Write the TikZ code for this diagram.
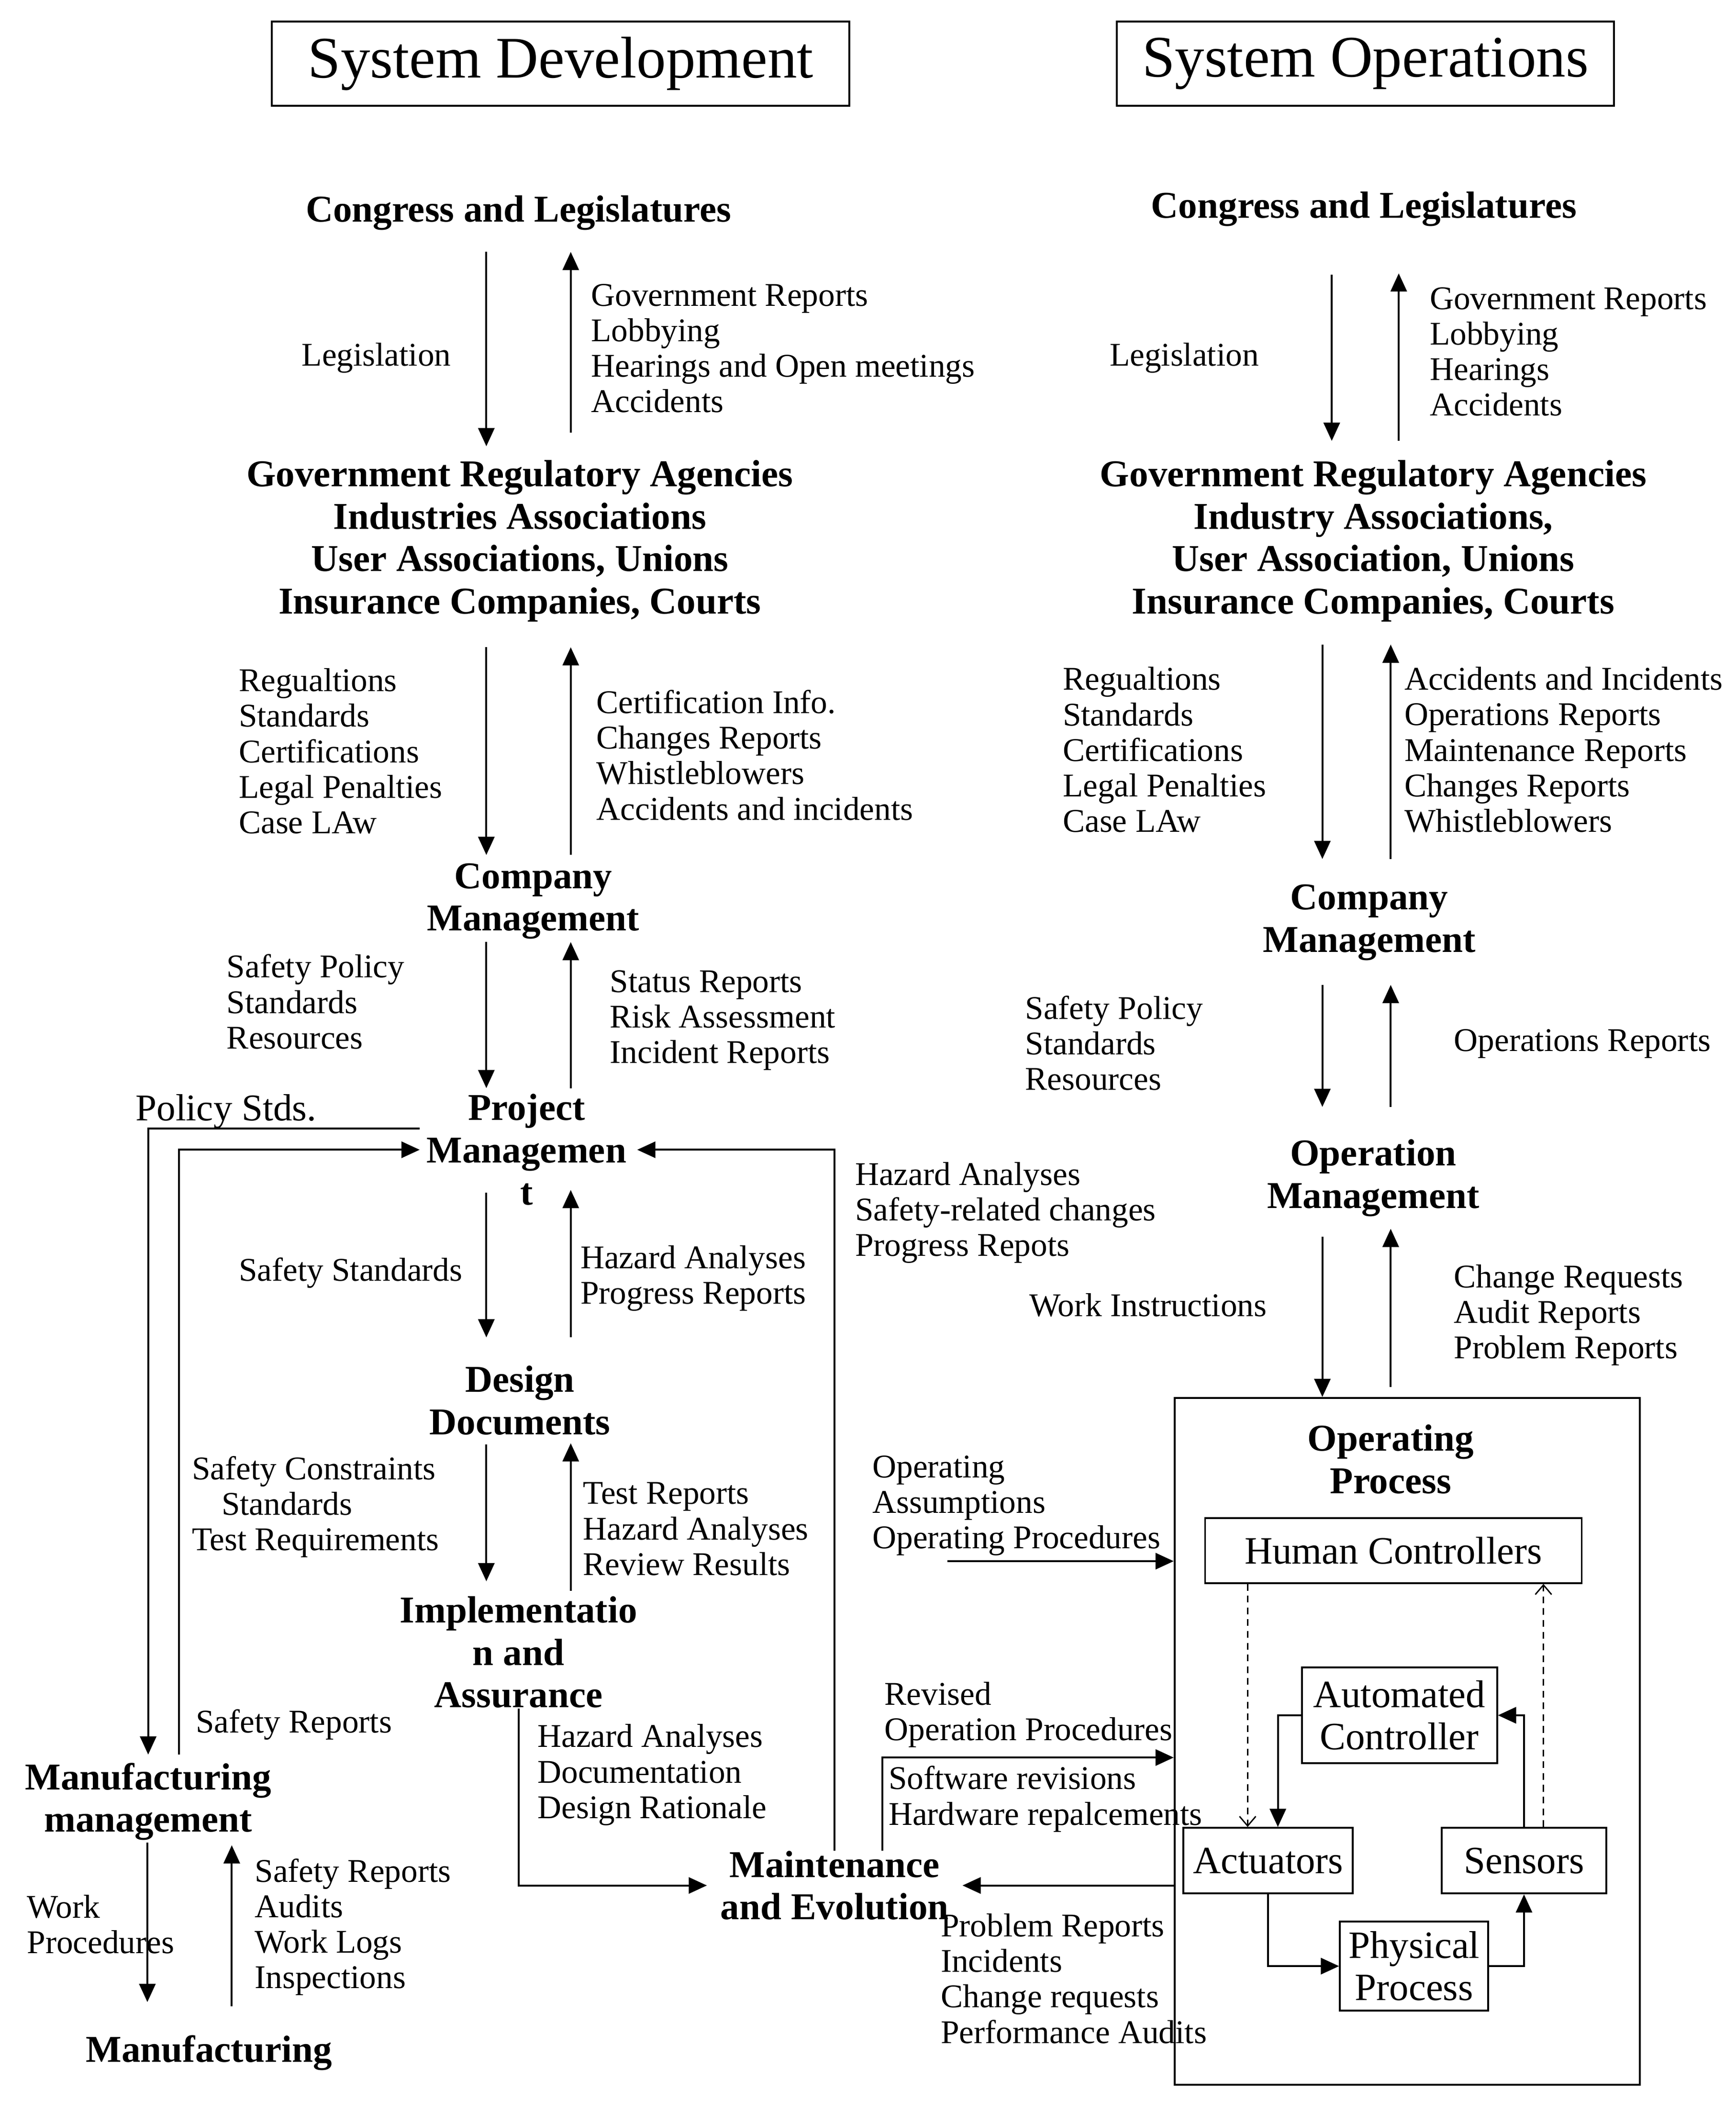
\documentclass[tikz,border=0pt]{standalone}
\usepackage{fontspec}
\setmainfont{Liberation Serif}
\usetikzlibrary{arrows.meta}
\tikzstyle{hdr} = [rectangle, draw=black, line width=1.1pt, minimum height=1.76cm, inner sep=0pt, font=\fontsize{35}{40}\selectfont]
\tikzstyle{ttl} = [align=center, inner sep=0pt, font=\bfseries\fontsize{22.5}{25.2}\selectfont]
\tikzstyle{msg} = [align=left, anchor=west, inner sep=0pt, font=\fontsize{19.7}{21.1}\selectfont]
\tikzstyle{block} = [rectangle, draw=black, line width=1.1pt, inner sep=0pt, align=center, font=\fontsize{23}{25}\selectfont]
\tikzstyle{wire} = [line width=1.1pt]
\tikzstyle{arrow} = [wire, -{Triangle[length=0.38cm, width=0.34cm]}]
\tikzstyle{dasharrow} = [line width=0.8pt, dash pattern=on 4pt off 3pt, -{Straight Barb[length=0.2cm, width=0.34cm]}]
\tikzset{gap/.style 2 args={shorten <=#1*0.028cm, shorten >=#2*0.028cm}}

\begin{document}
\begin{tikzpicture}[x=0.028cm, y=-0.028cm]
    \useasboundingbox (0,0) rectangle (1295.4,1568.6);

    \node (devhead) [hdr, minimum width=12.07cm] at (418.5,47.5) {System Development};
    \node (ophead) [hdr, minimum width=10.39cm] at (1019.1,47.5) {System Operations};

    % system development
    \node (dcong) [ttl] at (387,159) {Congress and Legislatures};
    \node (dgra) [ttl] at (388,403.75) {Government Regulatory Agencies\\Industries Associations\\User Associations, Unions\\Insurance Companies, Courts};
    \node (dcomp) [ttl] at (398,672.5) {Company\\Management};
    \node (dproj) [ttl] at (393,858) {Project\\Managemen\\t};
    \node (ddes) [ttl] at (388,1045) {Design\\Documents};
    \node (dimpl) [ttl] at (387,1233) {Implementatio\\n and\\Assurance};
    \node (dmaint) [ttl] at (623,1407) {Maintenance\\and Evolution};
    \node (dmfgm) [ttl] at (110.6,1344.5) {Manufacturing\\management};
    \node (dmfg) [ttl] at (156,1532) {Manufacturing};

    \node (dlegis) [msg] at (225,267) {Legislation};
    \node (dgovrep) [msg] at (441,260) {Government Reports\\Lobbying\\Hearings and Open meetings\\Accidents};
    \node (dregs) [msg] at (178,560.5) {Regualtions\\Standards\\Certifications\\Legal Penalties\\Case LAw};
    \node (dcert) [msg] at (445,563.5) {Certification Info.\\Changes Reports\\Whistleblowers\\Accidents and incidents};
    \node (dpolicy) [msg] at (169,747.5) {Safety Policy\\Standards\\Resources};
    \node (dstatus) [msg] at (455,761.5) {Status Reports\\Risk Assessment\\Incident Reports};
    \node (pstds) [msg, font=\fontsize{22.5}{25}\selectfont] at (101,829.5) {Policy Stds.};
    \node (dsafstd) [msg] at (178,950) {Safety Standards};
    \node (dhazprog) [msg] at (433,954) {Hazard Analyses\\Progress Reports};
    \node (dconstr) [msg] at (143,1124.5) {Safety Constraints\\\hspace*{0.62cm}Standards\\Test Requirements};
    \node (dtestrep) [msg] at (435,1141) {Test Reports\\Hazard Analyses\\Review Results};
    \node (dsafrep) [msg] at (146,1287) {Safety Reports};
    \node (dhazdoc) [msg] at (401,1324.5) {Hazard Analyses\\Documentation\\Design Rationale};
    \node (dworkproc) [msg] at (20,1436) {Work\\Procedures};
    \node (dmfgrep) [msg] at (190,1438) {Safety Reports\\Audits\\Work Logs\\Inspections};
    \node (dhazsafe) [msg] at (638,905) {Hazard Analyses\\Safety-related changes\\Progress Repots};

    % system operations
    \node (ocong) [ttl] at (1018,156) {Congress and Legislatures};
    \node (ogra) [ttl] at (1025,403.75) {Government Regulatory Agencies\\Industry Associations,\\User Association, Unions\\Insurance Companies, Courts};
    \node (ocomp) [ttl] at (1022,688.5) {Company\\Management};
    \node (oopm) [ttl] at (1025,879) {Operation\\Management};
    \node (oproc) [block, minimum width=9.72cm, minimum height=14.35cm] at (1050.3,1299.4) {};
    \node (optitle) [ttl] at (1038,1089) {Operating\\Process};
    \node (hc) [block, minimum width=7.87cm, minimum height=1.36cm] at (1040,1157) {Human Controllers};
    \node (ac) [block, minimum width=4.08cm, minimum height=2cm] at (1044.5,1280) {Automated\\Controller};
    \node (act) [block, minimum width=3.54cm, minimum height=1.37cm] at (946.5,1388.5) {Actuators};
    \node (sens) [block, minimum width=3.44cm, minimum height=1.37cm] at (1137.5,1388.5) {Sensors};
    \node (phys) [block, minimum width=3.1cm, minimum height=1.86cm] at (1055.5,1467.2) {Physical\\Process};

    \node (olegis) [msg] at (828,267) {Legislation};
    \node (ogovrep) [msg] at (1067,262.5) {Government Reports\\Lobbying\\Hearings\\Accidents};
    \node (oregs) [msg] at (793,559.5) {Regualtions\\Standards\\Certifications\\Legal Penalties\\Case LAw};
    \node (oacc) [msg] at (1048,559.5) {Accidents and Incidents\\Operations Reports\\Maintenance Reports\\Changes Reports\\Whistleblowers};
    \node (opolicy) [msg] at (765,778.5) {Safety Policy\\Standards\\Resources};
    \node (oopsrep) [msg] at (1085,779) {Operations Reports};
    \node (owork) [msg] at (768,974) {Work Instructions};
    \node (ochange) [msg] at (1085,981.5) {Change Requests\\Audit Reports\\Problem Reports};
    \node (oassum) [msg] at (651,1123.5) {Operating\\Assumptions\\Operating Procedures};
    \node (orevised) [msg] at (660,1279.5) {Revised\\Operation Procedures};
    \node (osoftrev) [msg] at (663,1342.5) {Software revisions\\Hardware repalcements};
    \node (oprobrep) [msg] at (702,1476.5) {Problem Reports\\Incidents\\Change requests\\Performance Audits};

    \coordinate (dl) at (363,0);
    \coordinate (ul) at (426,0);
    \coordinate (mdl) at (110,0);
    \coordinate (mul) at (173,0);
    \coordinate (ocdl) at (994,0);
    \coordinate (ocul) at (1044,0);
    \coordinate (odl) at (987,0);
    \coordinate (oul) at (1038,0);
    \coordinate (opsrc) at (707,1165);

    \draw [arrow, gap={29}{70.75}] (dcong.center -| dl) -- (dgra.center -| dl);
    \draw [arrow, gap={80.75}{29}] (dgra.center -| ul) -- (dcong.center -| ul);
    \draw [arrow, gap={79.25}{34.5}] (dgra.center -| dl) -- (dcomp.center -| dl);
    \draw [arrow, gap={34.5}{79.25}] (dcomp.center -| ul) -- (dgra.center -| ul);
    \draw [arrow, gap={30.5}{46}] (dcomp.center -| dl) -- (dproj.center -| dl);
    \draw [arrow, gap={46}{30.5}] (dproj.center -| ul) -- (dcomp.center -| ul);
    \draw [arrow, gap={32}{47}] (dproj.center -| dl) -- (ddes.center -| dl);
    \draw [arrow, gap={47}{30}] (ddes.center -| ul) -- (dproj.center -| ul);
    \draw [arrow, gap={33}{53}] (ddes.center -| dl) -- (dimpl.center -| dl);
    \draw [arrow, gap={46}{32}] (dimpl.center -| ul) -- (ddes.center -| ul);
    \draw [arrow, gap={30.5}{38}] (dmfgm.center -| mdl) -- (dmfg.center -| mdl);
    \draw [arrow, gap={35}{32.5}] (dmfg.center -| mul) -- (dmfgm.center -| mul);

    \draw [arrow, shorten <=0.14cm, shorten >=0.17cm] ([yshift=0.448cm]dproj.west) -| (dmfgm.north);
    \draw [arrow, shorten <=0.17cm, shorten >=0.14cm] ([xshift=0.644cm]dmfgm.north) |- (dproj.west);
    \draw [arrow, shorten >=0.28cm] (dimpl.south) |- (dmaint.west);
    \draw [arrow, shorten >=0.22cm] (dmaint.north) |- (dproj.east);
    \draw [arrow] ([xshift=1cm]dmaint.north) |- ([yshift=-0.34cm]oproc.west);
    \draw [arrow, shorten >=0.28cm] (oproc.west |- dmaint.east) -- (dmaint.east);
    \draw [arrow] (opsrc) -- (opsrc -| oproc.west);

    \draw [arrow, gap={49}{74.75}] (ocong.center -| ocdl) -- (ogra.center -| ocdl);
    \draw [arrow, gap={74.75}{48}] (ogra.center -| ocul) -- (ocong.center -| ocul);
    \draw [arrow, gap={77.25}{47.5}] (ogra.center -| odl) -- (ocomp.center -| odl);
    \draw [arrow, gap={47.5}{77.25}] (ocomp.center -| oul) -- (ogra.center -| oul);
    \draw [arrow, gap={46.5}{53}] (ocomp.center -| odl) -- (oopm.center -| odl);
    \draw [arrow, gap={53}{46.5}] (oopm.center -| oul) -- (ocomp.center -| oul);
    \draw [arrow, gap={44}{0}] (oopm.center -| odl) -- (oproc.north -| odl);
    \draw [arrow, gap={7.3}{38}] (oproc.north -| oul) -- (oopm.center -| oul);

    \draw [dasharrow] ([xshift=-0.428cm]act.north |- hc.south) -- ([xshift=-0.428cm]act.north);
    \draw [dasharrow] ([xshift=0.406cm]sens.north) -- ([xshift=0.406cm]sens.north |- hc.south);
    \draw [arrow] (ac.west) -| ([xshift=0.204cm]act.north);
    \draw [arrow] (sens.north) |- (ac.east);
    \draw [arrow] (act.south) |- (phys.west);
    \draw [arrow] (phys.east) -| (sens.south);

\end{tikzpicture}
\end{document}
